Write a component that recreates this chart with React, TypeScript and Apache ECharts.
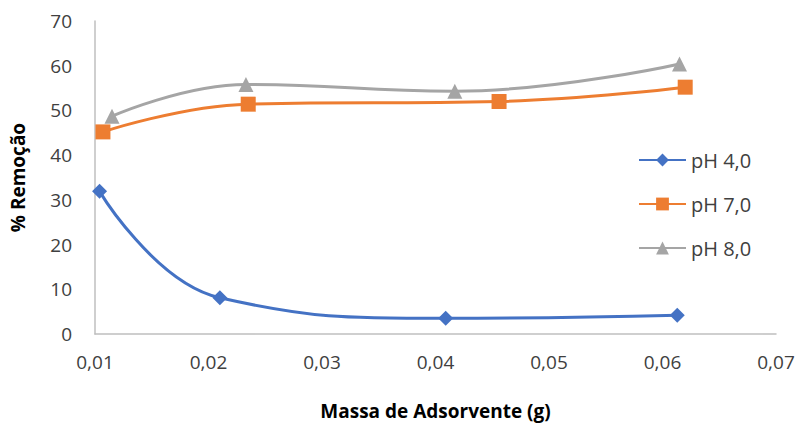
import React, { useEffect, useRef } from "react";
import * as echarts from "echarts";

// Adsorbent mass (g) and removal (%) for each pH
const massPH4 = [0.0104, 0.021, 0.0409, 0.0613];
const removalPH4 = [31.9, 8.1, 3.5, 4.2];

const massPH7 = [0.0107, 0.0235, 0.0456, 0.062];
const removalPH7 = [45.2, 51.4, 52.0, 55.2];

const massPH8 = [0.0115, 0.0233, 0.0417, 0.0615];
const removalPH8 = [48.7, 55.8, 54.3, 60.4];

const seriesNames = ["pH 4,0", "pH 7,0", "pH 8,0"];
const seriesColors = ["#4472C4", "#ED7D31", "#A5A5A5"];

const FONT = "'Open Sans', 'Noto Sans', sans-serif";

const pairs = (xs: number[], ys: number[]) => xs.map((x, i) => [x, ys[i]]);

export default function App() {
  const ref = useRef<HTMLDivElement>(null);

  useEffect(() => {
    if (!ref.current) return;
    const chart = echarts.init(ref.current, undefined, { renderer: "svg" });

    const symbols = ["diamond", "rect", "triangle"];
    const sizes = [15, 15, 15];
    const data = [
      pairs(massPH4, removalPH4),
      pairs(massPH7, removalPH7),
      pairs(massPH8, removalPH8),
    ];

    chart.setOption({
      animation: false,
      backgroundColor: "#ffffff",
      textStyle: { fontFamily: FONT },
      grid: { left: 86, right: 23, top: 21, bottom: 77, containLabel: false },
      legend: {
        orient: "vertical",
        left: 633,
        top: 145,
        itemWidth: 47,
        itemHeight: 16,
        itemGap: 24,
        data: seriesNames,
        textStyle: { fontSize: 20, color: "#404040", fontFamily: FONT },
      },
      xAxis: {
        type: "value",
        min: 0.01,
        max: 0.07,
        interval: 0.01,
        name: "Massa de Adsorvente (g)",
        nameLocation: "middle",
        nameGap: 67,
        nameTextStyle: { fontSize: 19, fontWeight: "bold", color: "#000000", fontFamily: FONT },
        axisLine: { show: true, lineStyle: { color: "#BFBFBF", width: 1.5 } },
        axisTick: { show: false },
        splitLine: { show: false },
        axisLabel: {
          fontSize: 19,
          color: "#404040",
          margin: 18,
          formatter: (v: number) => v.toFixed(2).replace(".", ","),
        },
      },
      yAxis: {
        type: "value",
        min: 0,
        max: 70,
        interval: 10,
        name: "% Remoção",
        nameLocation: "middle",
        nameGap: 68,
        nameRotate: 90,
        nameTextStyle: { fontSize: 19, fontWeight: "bold", color: "#000000", fontFamily: FONT },
        axisLine: { show: true, lineStyle: { color: "#BFBFBF", width: 1.5 } },
        axisTick: { show: false },
        splitLine: { show: false },
        axisLabel: { fontSize: 19, color: "#404040", margin: 23 },
      },
      series: seriesNames.map((name, i) => ({
        name,
        type: "line",
        data: data[i],
        smooth: 0.45,
        symbol: symbols[i],
        symbolSize: sizes[i],
        showAllSymbol: true,
        lineStyle: { color: seriesColors[i], width: 3 },
        itemStyle: { color: seriesColors[i] },
        z: 3 - i,
      })),
    });

    return () => chart.dispose();
  }, []);

  return (
    <div
      ref={ref}
      style={{ position: "fixed", left: 0, top: 0, width: 799, height: 425 }}
    />
  );
}
